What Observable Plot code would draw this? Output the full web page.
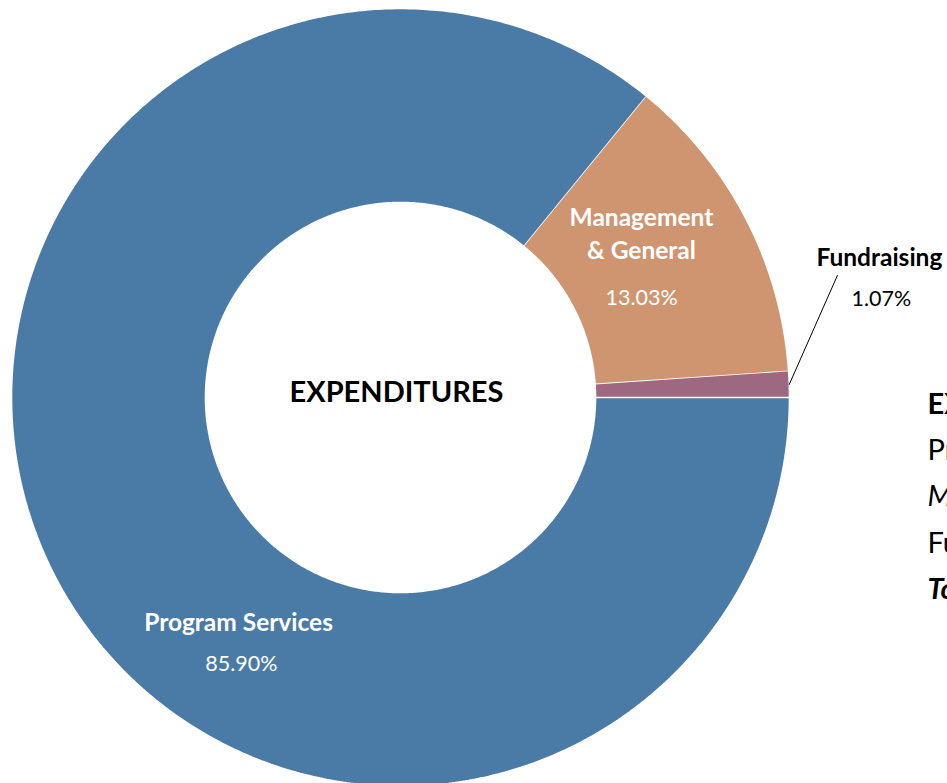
<!DOCTYPE html>
<html>
<head>
<meta charset="utf-8">
<script src="https://cdn.jsdelivr.net/npm/d3@7"></script>
<script src="https://cdn.jsdelivr.net/npm/@observablehq/plot@0.6"></script>
<style>
  html, body { margin: 0; padding: 0; background: #fff; overflow: hidden; }
  #chart svg { display: block; }
</style>
</head>
<body>
<div id="chart"></div>
<script>
// ---------------- data ----------------
const categories = ["Program Services", "Management & General", "Fundraising"];
const values = [85.90, 13.03, 1.07];
const nameLabels = ["Program Services", "Management\n& General", "Fundraising"];
const pctLabels = ["85.90%", "13.03%", "1.07%"];
const colors = ["#4A7BA7", "#CF9570", "#9E6880"];
const centerTitle = "EXPENDITURES";
const legendRows = ["EXPENDITURES", "Program Services", "Management & General", "Fundraising", "Total"];

// ---------------- layout ----------------
const W = 947, H = 783;
const CX = 400, CY = 397, RPX = 389;      // centre and outer radius in px
const R_IN = 195 / RPX;                    // inner radius as fraction of outer
// polar label placement [angle deg clockwise from top, radius fraction]
const nameAt = [[215.6, 0.715], [56.0, 0.747], [73.8, 1.282]];
const pctAt  = [[210.8, 0.799], [67.7, 0.670], [78.4, 1.262]];
const labelFill = ["white", "white", "black"];
const leaderEnd = [74.4, 1.166];
const legendStyle = [
  {fontWeight: "bold", fontStyle: "normal"},
  {fontWeight: "normal", fontStyle: "normal"},
  {fontWeight: "normal", fontStyle: "italic"},
  {fontWeight: "normal", fontStyle: "normal"},
  {fontWeight: "bold", fontStyle: "italic"}
];

const polar = (deg, r) => {
  const a = deg * Math.PI / 180;
  return {x: r * Math.sin(a), y: r * Math.cos(a)};
};

// slices from d3.pie: Program Services starts at 3 o'clock, clockwise
const arcs = d3.pie().sort(null)
  .startAngle(Math.PI / 2).endAngle(Math.PI / 2 + 2 * Math.PI)(values);

const slicePts = [];
arcs.forEach((a, i) => {
  const n = Math.max(4, Math.ceil((a.endAngle - a.startAngle) * 180 / Math.PI * 2));
  for (let k = 0; k <= n; k++) {
    const t = a.startAngle + (a.endAngle - a.startAngle) * k / n;
    slicePts.push({cat: categories[i], x: Math.sin(t), y: Math.cos(t)});
  }
  for (let k = n; k >= 0; k--) {
    const t = a.startAngle + (a.endAngle - a.startAngle) * k / n;
    slicePts.push({cat: categories[i], x: R_IN * Math.sin(t), y: R_IN * Math.cos(t)});
  }
});

const nameData = categories.map((c, i) => ({...polar(...nameAt[i]), t: nameLabels[i], f: labelFill[i]}));
const pctData = categories.map((c, i) => ({...polar(...pctAt[i]), t: pctLabels[i], f: labelFill[i]}));

const fr = arcs[2];
const frMid = (fr.startAngle + fr.endAngle) / 2 * 180 / Math.PI;
const leader = [polar(frMid, 1.0), polar(...leaderEnd)];

const legendX = (927 - CX) / RPX;
const legendY = (k) => (CY - (404 + k * 46.3)) / RPX;

const legendMarks = legendRows.map((t, k) =>
  Plot.text([{x: legendX, y: legendY(k), t}], {
    x: "x", y: "y", text: "t", textAnchor: "start",
    fontSize: 29, fill: "black", fontFamily: "Lato",
    ...legendStyle[k]
  })
);

const chart = Plot.plot({
  width: W, height: H,
  marginTop: 0, marginRight: 0, marginBottom: 0, marginLeft: 0,
  x: {domain: [-CX / RPX, (W - CX) / RPX], axis: null},
  y: {domain: [-(H - CY) / RPX, CY / RPX], axis: null},
  color: {domain: categories, range: colors},
  style: {fontFamily: "Lato", background: "white"},
  marks: [
    Plot.line(slicePts, {x: "x", y: "y", z: "cat", fill: "cat", stroke: "white", strokeWidth: 1.6, strokeLinejoin: "miter", curve: "linear"}),
    Plot.line(leader, {x: "x", y: "y", stroke: "black", strokeWidth: 1}),
    Plot.text([{x: 0, y: 0, t: centerTitle}], {x: "x", y: "y", text: "t", dx: -4, dy: -5, fontSize: 29, fontWeight: "bold", fill: "black"}),
    Plot.text(nameData, {x: "x", y: "y", text: "t", fill: "f", dy: -3, fontSize: 24.5, fontWeight: "bold", lineHeight: 1.36}),
    Plot.text(pctData, {x: "x", y: "y", text: "t", fill: "f", fontSize: 21.5}),
    ...legendMarks
  ]
});
document.getElementById("chart").appendChild(chart);
</script>
</body>
</html>
